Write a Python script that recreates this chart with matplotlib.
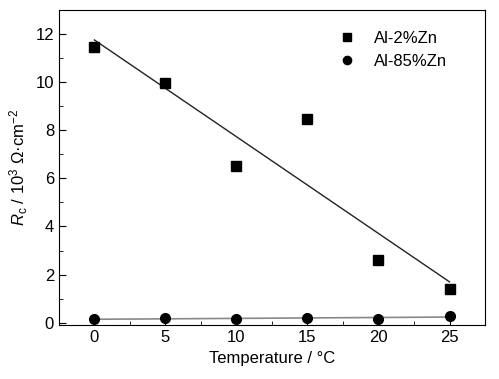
import numpy as np
import matplotlib
matplotlib.use('Agg')
import matplotlib.pyplot as plt
from matplotlib.ticker import MultipleLocator

plt.rcParams['font.family'] = ['Liberation Sans', 'DejaVu Sans']
plt.rcParams['font.size'] = 12
plt.rcParams['mathtext.fontset'] = 'custom'
plt.rcParams['mathtext.it'] = 'Liberation Sans:italic'
plt.rcParams['mathtext.rm'] = 'Liberation Sans'

temperature = [0, 5, 10, 15, 20, 25]
rc_al2zn = [11.45, 9.95, 6.5, 8.45, 2.6, 1.4]
rc_al85zn = [0.15, 0.2, 0.15, 0.2, 0.15, 0.3]

fig = plt.figure(figsize=(4.99, 3.79), dpi=100)
ax = fig.add_axes([0.118, 0.142, 0.854, 0.832])

t = np.array(temperature)
# linear fits
p1 = np.polyfit(t, rc_al2zn, 1)
p2 = np.polyfit(t, rc_al85zn, 1)
ax.plot(t, np.polyval(p1, t), color='#222222', lw=1.0)
ax.plot(t, np.polyval(p2, t), color='#888888', lw=1.2)

ax.plot(temperature, rc_al2zn, 's', color='black', ms=7, label='Al-2%Zn')
ax.plot(temperature, rc_al85zn, 'o', color='black', ms=7, label='Al-85%Zn')

ax.set_xlim(-2.5, 27.5)
ax.set_ylim(-0.1, 13)
ax.xaxis.set_major_locator(MultipleLocator(5))
ax.xaxis.set_minor_locator(MultipleLocator(2.5))
ax.yaxis.set_major_locator(MultipleLocator(2))
ax.yaxis.set_minor_locator(MultipleLocator(1))
ax.tick_params(which='both', direction='in', top=False, right=False)
ax.tick_params(which='major', length=5)
ax.tick_params(which='minor', length=3)

ax.set_xlabel('Temperature / \u00b0C')
ax.set_ylabel(r'$R_{\mathrm{c}}$ / 10$^{3}$ ' + '\u03a9\u00b7cm' + r'$^{-2}$')

ax.legend(loc='upper right', frameon=False, handletextpad=0.6, borderaxespad=0.6,
          bbox_to_anchor=(0.95, 0.985), markerscale=0.85, labelspacing=0.45)

fig.savefig('out.png', dpi=100)
